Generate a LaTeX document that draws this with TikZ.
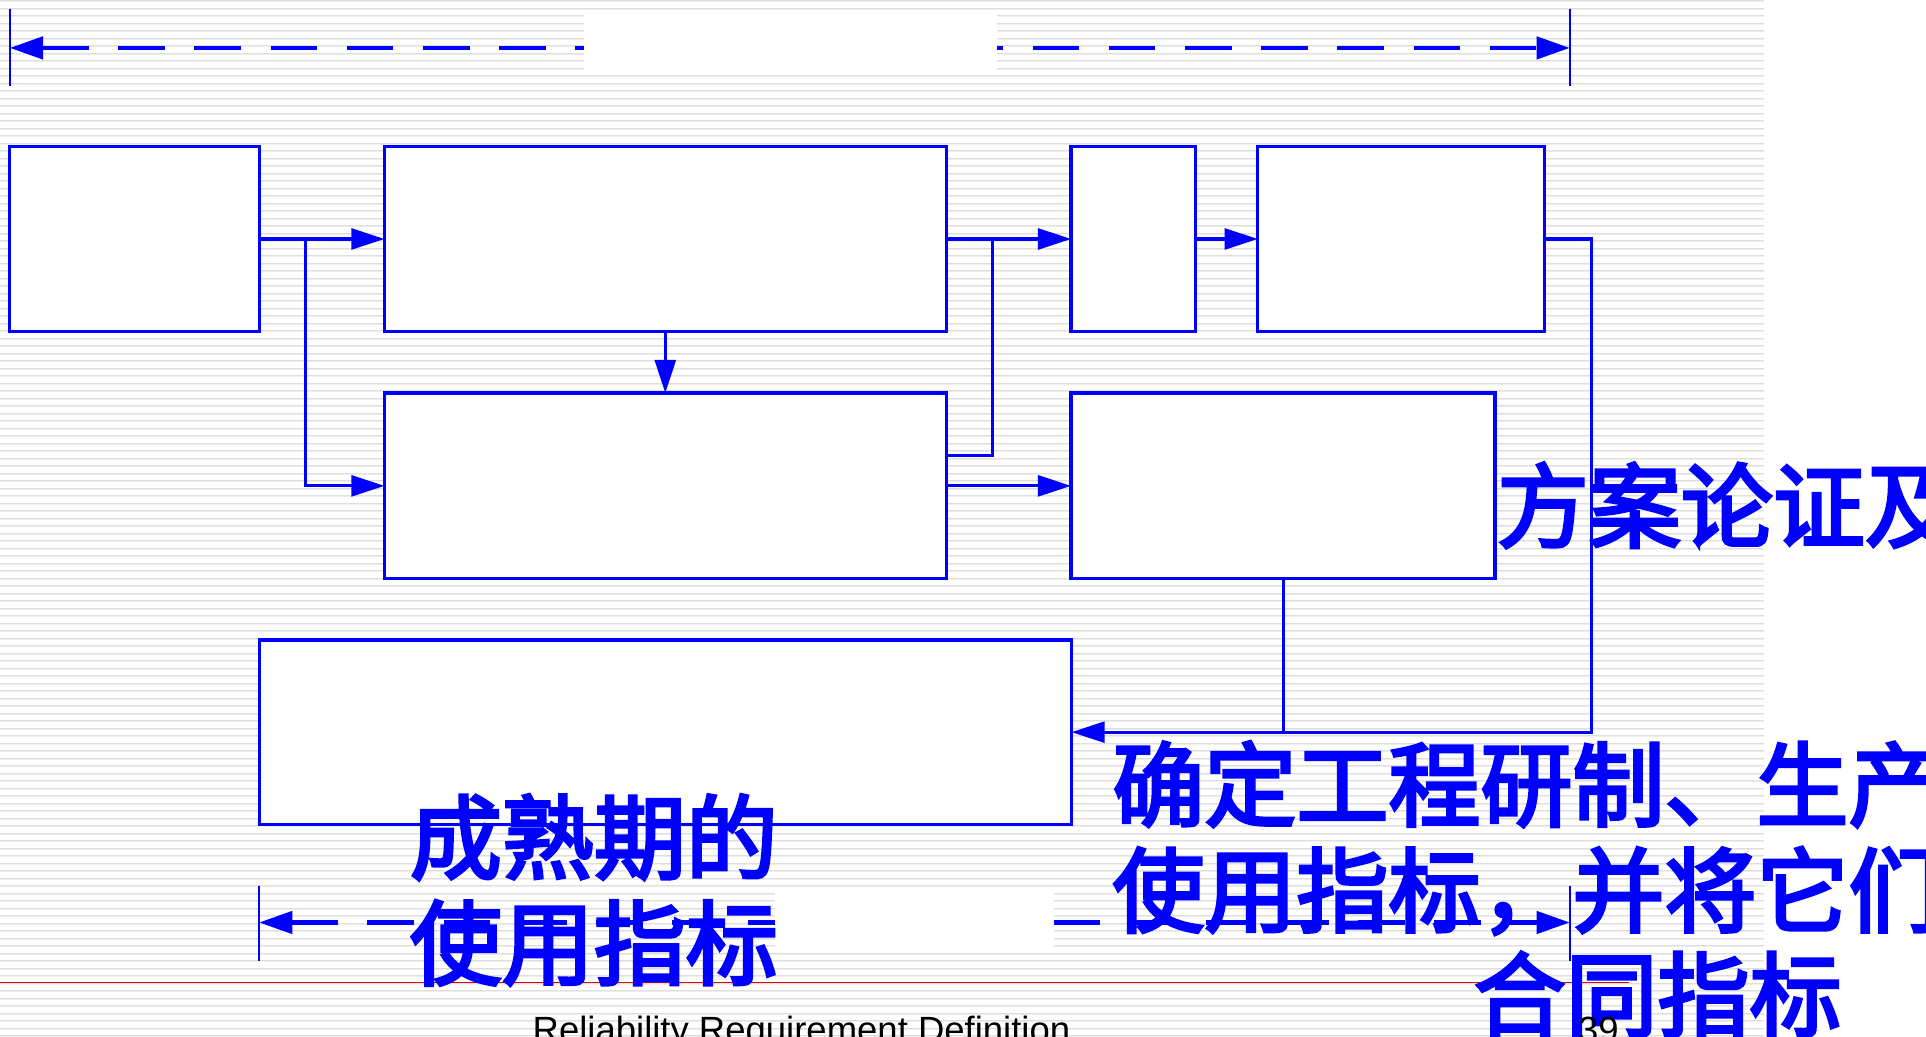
\documentclass[tikz,border=0pt]{standalone}
\usepackage{fontspec}
\setmainfont{Liberation Sans}
\newfontfamily\cjk[FakeBold=3.5]{Noto Sans CJK SC}
\usetikzlibrary{arrows.meta}
\definecolor{pblue}{RGB}{0,0,255}
\definecolor{stripeA}{RGB}{222,222,222}
\definecolor{stripeB}{RGB}{238,238,238}
\definecolor{pred}{RGB}{220,0,0}
\begin{document}
\begin{tikzpicture}[x=0.01cm,y=-0.01cm,
  box/.style={draw=pblue, fill=white, line width=0.75pt, inner sep=0pt, outer sep=0pt, anchor=north west},
  conn/.style={draw=pblue, line width=0.72pt},
  arr/.style={-{Triangle[length=0.27cm,width=0.17cm]}},
  tick/.style={draw=pblue, line width=0.5pt},
  dim/.style={draw=pblue, line width=1pt, dash pattern=on 0.38cm off 0.24cm,
    {Triangle[length=0.27cm,width=0.18cm]}-{Triangle[length=0.27cm,width=0.18cm]}},
  cjktext/.style={text=pblue, font=\cjk\fontsize{21.3pt}{21.3pt}\selectfont, inner sep=0pt, anchor=base west},
  foot/.style={text=black, font=\fontsize{8.45pt}{9pt}\selectfont, inner sep=0pt, anchor=base west}]
\useasboundingbox (0,0) rectangle (1568,844);
\fill[white] (0,0) rectangle (1568,844);
% striped background
\foreach \i in {0,...,139}{
  \fill[stripeA] (0,{\i*6.107+0.2}) rectangle (1436,{\i*6.107+1.0});
  \fill[stripeB] (0,{\i*6.107+1.0}) rectangle (1436,{\i*6.107+1.8});
}
% boxes
\node[box, minimum width=2.03cm, minimum height=1.51cm] (A) at (8,119) {};
\node[box, minimum width=4.57cm, minimum height=1.51cm] (B) at (313,119) {};
\node[box, minimum width=1.01cm, minimum height=1.51cm] (C) at (872,119) {};
\node[box, minimum width=2.33cm, minimum height=1.51cm] (D) at (1024,119) {};
\node[box, minimum width=4.57cm, minimum height=1.51cm] (E) at (313,320) {};
\node[box, minimum width=3.45cm, minimum height=1.51cm] (F) at (872,320) {};
\node[box, minimum width=6.61cm, minimum height=1.50cm] (G) at (211,521) {};
% junction columns
\coordinate (xj1) at (249,0);
\coordinate (xj2) at (808,0);
\coordinate (xj3) at (1296,0);
% connectors
\draw[conn,arr] (A.east) -- (B.west);
\draw[conn,arr] (xj1 |- A.east) -- (xj1 |- E.west) -- (E.west);
\draw[conn,arr] (B.south) -- (E.north);
\draw[conn,arr] (B.east) -- (C.west);
\draw[conn] ([yshift=0.25cm]E.east) -| (xj2 |- B.east);
\draw[conn,arr] (E.east) -- (F.west);
\draw[conn,arr] (C.east) -- (D.west);
\draw[conn,arr] (D.east) -| (xj3 |- G.east) -- (G.east);
\draw[conn] (F.south) -- (F.south |- G.east);
% top dimension line
\coordinate (tl) at (8,39);
\coordinate (tr) at (1278,39);
\draw[tick] (8,7) -- (8,70);
\draw[tick] (1278,7) -- (1278,70);
\draw[dim] (tl) -- (tr);
\fill[white] (475.6,8) rectangle (811.6,61);
% bottom dimension line
\coordinate (bl) at (211,751);
\coordinate (br) at (1278,751);
\draw[tick] (211,721) -- (211,782);
\draw[tick] (1278,721) -- (1278,782);
\draw[dim] (bl) -- (br);
\fill[white] (631,722) rectangle (858,771);
% red rule
\draw[pred, line width=0.35pt] (0,800) -- (1326,800);
% texts
\node[cjktext] (t1) at (1218,440) {方案论证及};
\node[cjktext] (t2) at (905,667) {确定工程研制、生产};
\node[cjktext] (t3) at (905,753) {使用指标，并将它们};
\node[cjktext] (t4) at (1199,838) {合同指标};
\node[cjktext] (t5) at (333,710) {成熟期的};
\node[cjktext] (t6) at (333,796) {使用指标};
\node[foot] (ft) at (433,849) {Reliability Requirement Definition};
\node[foot] (pg) at (1284,849) {39};
\end{tikzpicture}
\end{document}
